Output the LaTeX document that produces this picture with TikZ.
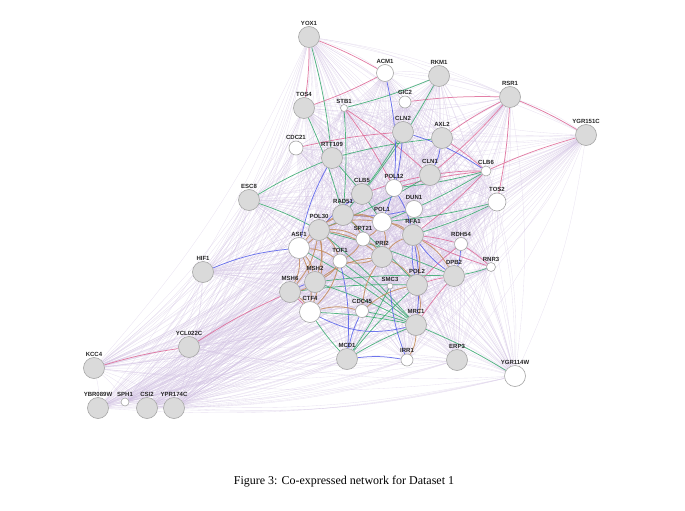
\documentclass[tikz,border=0pt]{standalone}
\usepackage{fontspec}
\setmainfont{Liberation Serif}
\newfontfamily\labelfont{Liberation Sans}
\usepackage{tikz}
\definecolor{nodegrey}{RGB}{218,218,218}
\definecolor{rimgrey}{RGB}{165,165,165}
\definecolor{coexp}{RGB}{208,192,225}
\definecolor{physint}{RGB}{222,105,150}
\definecolor{genint}{RGB}{55,170,110}
\definecolor{coloc}{RGB}{85,95,235}
\definecolor{shdom}{RGB}{195,140,95}
\pgfdeclarelayer{edges}
\pgfsetlayers{edges,main}

\begin{document}
\begin{tikzpicture}[x=1pt, y=-1pt,
  gene/.style={circle, draw=rimgrey, fill=nodegrey, line width=0.6pt, inner sep=0pt, minimum size=21pt},
  wgene/.style={gene, fill=white},
  every label/.style={font=\labelfont\fontsize{6}{6.5}\selectfont\bfseries, inner sep=0.8pt, text=black!85},
  coexpedge/.style={coexp, line width=0.35pt, opacity=0.45},
  coledge/.style={line width=0.75pt, opacity=0.85}]

\useasboundingbox (0,0) rectangle (685,511);

% =============================================================================
% GENES DU HAUT
% =============================================================================
\node[gene, label=above:YOX1] (YOX1) at (309,37) {};
\node[wgene, minimum size=17pt, label=above:ACM1] (ACM1) at (385,73) {};
\node[gene, label=above:RKM1] (RKM1) at (439,76) {};
\node[gene, label=above:RSR1] (RSR1) at (510,97) {};
\node[gene, label=above:YGR151C] (YGR151C) at (586,135) {};
\node[gene, label=above:TOS4] (TOS4) at (304,108) {};
\node[wgene, minimum size=7pt, label=above:STB1] (STB1) at (344,108) {};
\node[wgene, minimum size=12pt, label=above:GIC2] (GIC2) at (405,102) {};
\node[gene, label=above:CLN2] (CLN2) at (403,132) {};
\node[gene, label=above:AXL2] (AXL2) at (442,138) {};
\node[wgene, minimum size=14pt, label=above:CDC21] (CDC21) at (296,148) {};
\node[gene, label=above:RTT109] (RTT109) at (332,158) {};
\node[gene, label=above:CLN1] (CLN1) at (430,175) {};
\node[wgene, minimum size=10pt, label=above:CLB6] (CLB6) at (486,171) {};
\node[wgene, minimum size=18pt, label=above:TOS2] (TOS2) at (497,202) {};

% =============================================================================
% GENES DU CENTRE
% =============================================================================
\node[gene, label=above:ESC8] (ESC8) at (249,200) {};
\node[gene, label=above:CLB5] (CLB5) at (362,194) {};
\node[wgene, minimum size=17pt, label=above:POL12] (POL12) at (394,188) {};
\node[wgene, minimum size=17pt, label=above:DUN1] (DUN1) at (414,209) {};
\node[gene, label=above:RAD51] (RAD51) at (343,215) {};
\node[wgene, minimum size=19pt, label=above:POL1] (POL1) at (382,222) {};
\node[gene, label=above:RFA1] (RFA1) at (413,235) {};
\node[wgene, minimum size=14pt, label=above:SPT21] (SPT21) at (363,239) {};
\node[gene, label=above:POL30] (POL30) at (319,230) {};
\node[wgene, label=above:ASF1] (ASF1) at (299,248) {};
\node[wgene, minimum size=14pt, label=above:TOF1] (TOF1) at (340,261) {};
\node[gene, label=above:PRI2] (PRI2) at (382,257) {};
\node[wgene, minimum size=13pt, label=above:RDH54] (RDH54) at (461,244) {};
\node[wgene, minimum size=9pt, label=above:RNR3] (RNR3) at (491,267) {};
\node[gene, label=above:HIF1] (HIF1) at (203,272) {};
\node[gene, label=above:MSH2] (MSH2) at (315,282) {};
\node[gene, label=above:MSH6] (MSH6) at (290,292) {};
\node[wgene, minimum size=6pt, label=above:SMC3] (SMC3) at (390,286) {};
\node[gene, label=above:POL2] (POL2) at (417,285) {};
\node[gene, label=above:DPB2] (DPB2) at (454,276) {};
\node[wgene, label=above:CTF4] (CTF4) at (310,312) {};
\node[wgene, minimum size=13pt, label=above:CDC45] (CDC45) at (362,311) {};
\node[gene, label=above:MRC1] (MRC1) at (416,325) {};

% =============================================================================
% GENES DU BAS
% =============================================================================
\node[gene, label=above:MCD1] (MCD1) at (347,359) {};
\node[wgene, minimum size=12pt, label=above:IRR1] (IRR1) at (407,360) {};
\node[gene, label=above:ERP3] (ERP3) at (457,360) {};
\node[wgene, label=above:YGR114W] (YGR114W) at (515,376) {};
\node[gene, label=above:YCL022C] (YCL022C) at (189,347) {};
\node[gene, label=above:KCC4] (KCC4) at (94,368) {};
\node[gene, label=above:YBR089W] (YBR089W) at (98,408) {};
\node[wgene, minimum size=8pt, label=above:SPH1] (SPH1) at (125,402) {};
\node[gene, label=above:CSI2] (CSI2) at (147,408) {};
\node[gene, label=above:YPR174C] (YPR174C) at (174,408) {};

% =============================================================================
% LIENS
% =============================================================================
\def\genelist{YOX1,ACM1,RKM1,RSR1,YGR151C,TOS4,STB1,GIC2,CLN2,AXL2,CDC21,RTT109,CLN1,CLB6,TOS2,ESC8,CLB5,POL12,DUN1,RAD51,POL1,RFA1,SPT21,POL30,ASF1,TOF1,PRI2,RDH54,RNR3,HIF1,MSH2,MSH6,SMC3,POL2,DPB2,CTF4,CDC45,MRC1,MCD1,IRR1,ERP3,YGR114W,YCL022C,KCC4,YBR089W,SPH1,CSI2,YPR174C}

\begin{pgfonlayer}{edges}
% Co-expression (tous les couples)
\foreach \a [count=\i] in \genelist {
  \foreach \b [count=\j] in \genelist {
    \ifnum\j>\i \draw[coexpedge] (\a) to[bend left=8] (\b); \fi
  }
}

% Interactions physiques
\foreach \a/\b in {YOX1/ACM1, YOX1/TOS4, ACM1/TOS4, GIC2/RSR1, AXL2/RSR1, RSR1/YGR151C, RSR1/TOS2,
    RSR1/CLN1, CLB6/YGR151C, AXL2/CLB6, STB1/CLN1, STB1/POL12, CDC21/CLN2, KCC4/YCL022C,
    YCL022C/MSH6, CLB5/CLN1, POL12/CLB6, CLN1/CLB6, CLB6/RFA1, RFA1/RDH54, POL2/RDH54,
    RDH54/RNR3, RNR3/RFA1, MSH6/CTF4, POL2/DPB2, MRC1/DPB2} {
    \draw[coledge, physint] (\a) to[bend left=4] (\b);
}

% Interactions genetiques
\foreach \a/\b in {YOX1/RTT109, RKM1/STB1, RKM1/CLB5, TOS4/RAD51, STB1/RAD51, ESC8/RTT109,
    ESC8/POL30, RTT109/AXL2, RTT109/POL1, CLN2/RAD51, CLB6/POL1, CLB6/POL12, TOS2/RFA1,
    TOS2/POL1, DUN1/RFA1, CLN1/POL30, RNR3/DPB2, MRC1/YGR114W, MCD1/MRC1, MCD1/CTF4,
    MCD1/POL2, CDC45/MRC1, CTF4/MRC1, MSH2/MRC1, TOF1/MRC1, POL30/MRC1, SMC3/MCD1,
    ASF1/MRC1, MSH6/POL2, RAD51/POL2, POL30/DPB2, MSH2/DPB2} {
    \draw[coledge, genint] (\a) to[bend left=4] (\b);
}

% Co-localisation
\foreach \a/\b in {ACM1/POL12, CLN2/CLB6, CLN2/POL1, AXL2/CLN1, HIF1/ASF1, MCD1/IRR1,
    MCD1/CDC45, ASF1/RTT109, POL30/CLB5, MSH6/MSH2, POL2/RFA1, DPB2/RFA1, RDH54/DPB2,
    RFA1/MRC1, POL12/RFA1, DUN1/RAD51, TOF1/MCD1, IRR1/SMC3} {
    \draw[coledge, coloc] (\a) to[bend left=8] (\b);
}
\draw[coledge, coloc] (CTF4) to[bend right=20] (MRC1);

% Domaines proteiques partages
\foreach \a/\b in {POL30/RAD51, POL30/ASF1, POL30/MSH2, POL30/MSH6, POL30/POL1, POL30/TOF1,
    POL30/SPT21, POL30/PRI2, POL30/CTF4, ASF1/MSH2, ASF1/TOF1, ASF1/RAD51, ASF1/MSH6,
    ASF1/CTF4, RAD51/POL1, RAD51/SPT21, RAD51/RFA1, POL1/PRI2, POL1/RFA1, POL1/SPT21,
    PRI2/RFA1, PRI2/TOF1, PRI2/POL2, TOF1/MSH2, TOF1/CTF4, MSH2/MSH6, MSH6/CTF4,
    CTF4/CDC45, CDC45/PRI2, RFA1/POL2, RFA1/DPB2, POL2/MRC1, MRC1/IRR1, CDC45/POL2,
    SPT21/TOF1, SPT21/PRI2, MSH2/PRI2} {
    \draw[coledge, shdom, line width=0.9pt] (\a) to[bend left=14] (\b);
}
\end{pgfonlayer}

% =============================================================================
% LEGENDE
% =============================================================================
\node[font=\fontsize{12}{14}\selectfont] (caption) at (344,482) {Figure 3: Co-expressed network for Dataset 1};

\end{tikzpicture}
\end{document}
